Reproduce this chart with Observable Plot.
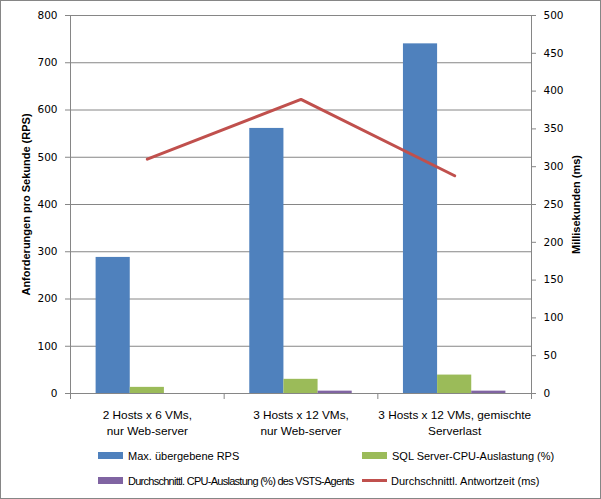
<!DOCTYPE html>
<html><head><meta charset="utf-8">
<script src="https://cdn.jsdelivr.net/npm/d3@7"></script>
<script src="https://cdn.jsdelivr.net/npm/@observablehq/plot@0.6"></script>
<style>
body{margin:0;background:#fff;}
#chart{position:relative;width:601px;height:499px;background:#fff;overflow:hidden;}
#border{position:absolute;left:0;top:0;width:601px;height:499px;box-sizing:border-box;border:1px solid #868686;pointer-events:none;}
#legend{position:absolute;left:0;top:0;width:601px;height:499px;font-family:"Liberation Sans",Arial,sans-serif;font-size:11px;color:#000;pointer-events:none;}
.item{position:absolute;height:13px;display:flex;align-items:center;white-space:nowrap;}
.sw{width:25px;height:7px;margin-right:5px;flex:none;}
.ln{width:25px;height:3px;margin-right:4px;flex:none;}
svg{position:absolute;left:0;top:0;}
</style></head>
<body><div id="chart"></div>
<script>
const categories = ["2 Hosts x 6 VMs,\nnur Web-server", "3 Hosts x 12 VMs,\nnur Web-server", "3 Hosts x 12 VMs, gemischte\nServerlast"];
const maxRps = [288, 561, 740];
const sqlCpu = [13, 30, 39];
const agentCpu = [0, 5, 5];
const responseMs = [310, 389, 288];
const seriesNames = ["Max. übergebene RPS", "SQL Server-CPU-Auslastung (%)", "Durchschnittl. CPU-Auslastung (%) des VSTS-Agents", "Durchschnittl. Antwortzeit (ms)"];
const seriesColors = ["#4F81BD", "#9BBB59", "#8064A2", "#C0504D"];
const leftTicks = [0, 100, 200, 300, 400, 500, 600, 700, 800];
const rightTicks = [0, 50, 100, 150, 200, 250, 300, 350, 400, 450, 500];
const leftTitle = "Anforderungen pro Sekunde (RPS)";
const rightTitle = "Millisekunden (ms)";

const k = leftTicks[leftTicks.length - 1] / rightTicks[rightTicks.length - 1];
const barSeries = [maxRps, sqlCpu, agentCpu];
const slots = 4.5; // bars + gap (Excel gap width 150%)
const barData = [];
categories.forEach((c, i) => {
  barSeries.forEach((vals, s) => {
    barData.push({x1: i + (0.75 + s) / slots, x2: i + (1.75 + s) / slots, value: vals[i], series: seriesNames[s]});
  });
});
const lineData = responseMs.map((v, i) => ({x: i + 0.5, y: v * k}));
const grid = "#868686";

const plot = Plot.plot({
  width: 601, height: 440,
  marginLeft: 70, marginRight: 70, marginTop: 15, marginBottom: 47,
  style: {background: "transparent", fontFamily: "DejaVu Sans", fontSize: "10.5px", color: "#000", overflow: "visible"},
  x: {type: "linear", domain: [0, categories.length]},
  y: {domain: [leftTicks[0], leftTicks[leftTicks.length - 1]]},
  color: {domain: seriesNames, range: seriesColors},
  marks: [
    Plot.ruleY(leftTicks.slice(1), {stroke: grid}),
    Plot.rect(barData, {x1: "x1", x2: "x2", y1: 0, y2: "value", fill: "series"}),
    Plot.ruleX([0, categories.length], {stroke: grid}),
    Plot.ruleY([0], {stroke: grid}),
    Plot.axisY(leftTicks, {anchor: "left", tickSize: 5, tickPadding: 8, stroke: grid, label: null}),
    Plot.axisY(rightTicks.map(v => v * k), {anchor: "right", tickSize: 4, tickPadding: 8, stroke: grid, tickFormat: d => String(Math.round(d / k)), label: null}),
    Plot.axisY([], {anchor: "left", label: leftTitle, labelAnchor: "center", labelOffset: 48, labelArrow: "none", fontFamily: "Liberation Sans", fontSize: 11, fontWeight: "bold", tickSize: 0}),
    Plot.axisY([], {anchor: "right", label: rightTitle, labelAnchor: "center", labelOffset: 48, labelArrow: "none", fontFamily: "Liberation Sans", fontSize: 11, fontWeight: "bold", tickSize: 0}),
    Plot.axisX(d3.range(categories.length + 1), {tickSize: 6, stroke: grid, tickFormat: () => "", label: null}),
    Plot.axisX(categories.map((c, i) => i + 0.5), {tickSize: 0, tickPadding: 14, tickFormat: d => categories[Math.floor(d)], fontFamily: "Liberation Sans", fontSize: 11.8, lineHeight: 1.36, label: null}),
    Plot.line(lineData, {x: "x", y: "y", stroke: seriesColors[3], strokeWidth: 3})
  ]
});
const chart = document.getElementById("chart");
chart.appendChild(plot);

const legend = document.createElement("div");
legend.id = "legend";
const pos = [[98, 449], [362, 449], [98, 474], [362, 474]];
seriesNames.forEach((name, i) => {
  const it = document.createElement("div");
  it.className = "item";
  it.style.left = pos[i][0] + "px";
  it.style.top = pos[i][1] + "px";
  const sw = document.createElement("div");
  sw.className = i === 3 ? "ln" : "sw";
  sw.style.background = seriesColors[i];
  const tx = document.createElement("span");
  tx.textContent = name;
  if (i === 2) tx.style.letterSpacing = "-0.73px";
  it.appendChild(sw); it.appendChild(tx);
  legend.appendChild(it);
});
chart.appendChild(legend);
const border = document.createElement("div");
border.id = "border";
chart.appendChild(border);
</script>
</body></html>
